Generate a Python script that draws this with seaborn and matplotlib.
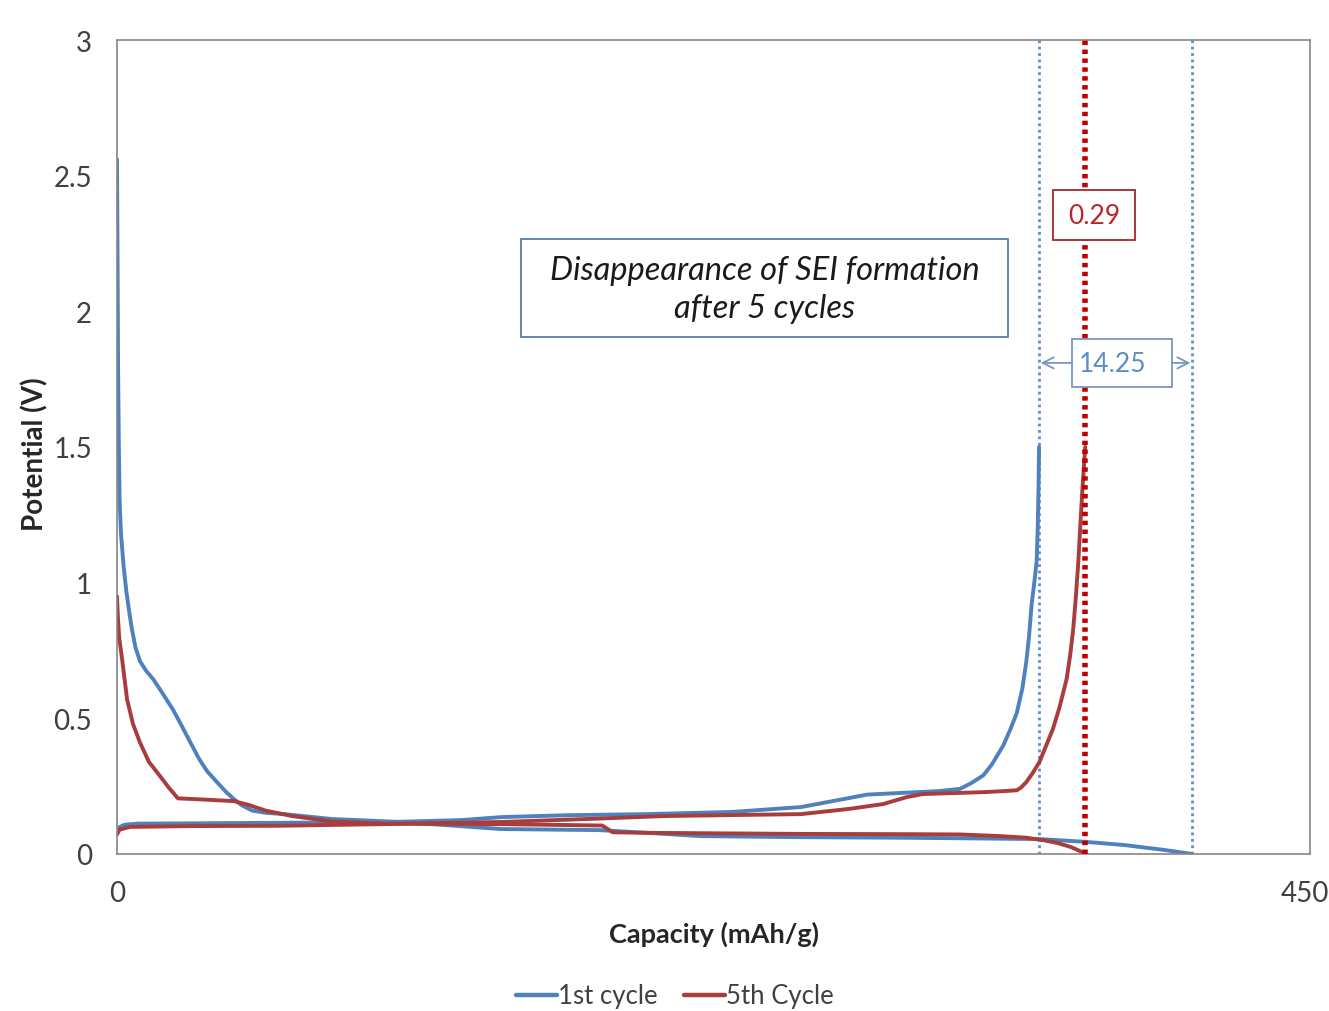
import numpy as np
import pandas as pd
import matplotlib
matplotlib.use("Agg")
import matplotlib.pyplot as plt
import matplotlib.transforms as mtransforms
from matplotlib.patches import Rectangle
import seaborn as sns

# ---------------- data ----------------
# 1st cycle, discharge branch
c1_dis_cap = [0, 0.2, 0.4, 0.7, 1.0, 1.5, 2.5, 3.5, 4.5, 5.6, 7, 8.7, 11, 13.6, 17, 21, 24, 26.4,
              31, 34, 37.7, 41, 44, 47, 51, 56, 63, 81, 107, 145, 182, 200, 220, 258, 295, 318,
              348, 365, 380, 395, 405.5]
c1_dis_v = [2.56, 2.2, 1.8, 1.5, 1.3, 1.18, 1.06, 0.97, 0.90, 0.83, 0.76, 0.71, 0.675, 0.645,
            0.595, 0.534, 0.48, 0.435, 0.35, 0.305, 0.265, 0.23, 0.203, 0.18, 0.16, 0.152, 0.147,
            0.129, 0.118, 0.092, 0.088, 0.078, 0.066, 0.062, 0.06, 0.058, 0.055, 0.045, 0.033,
            0.015, 0.0]
# 1st cycle, charge branch
c1_chg_cap = [0, 1, 3, 8, 30, 60, 100, 130, 145, 170, 200, 232, 258, 270, 283, 302, 310, 318,
              322, 326.8, 330, 334.3, 337, 339.4, 341.5, 343, 344, 345, 346, 346.9, 347.3, 347.6,
              347.8]
c1_chg_v = [0.088, 0.10, 0.108, 0.112, 0.113, 0.115, 0.117, 0.125, 0.136, 0.143, 0.147, 0.155,
            0.173, 0.195, 0.219, 0.228, 0.232, 0.24, 0.26, 0.29, 0.33, 0.40, 0.46, 0.52, 0.61,
            0.71, 0.80, 0.92, 1.0, 1.08, 1.2, 1.35, 1.5]
# 5th cycle, discharge branch
c5_dis_cap = [0, 0.3, 0.8, 1.9, 3.8, 6, 8.7, 12, 16, 19.5, 23, 30, 44, 50, 56, 66, 81, 100, 145,
              183, 187, 200, 258, 300, 318, 333, 343, 350, 355, 360, 363, 365]
c5_dis_v = [0.95, 0.88, 0.80, 0.72, 0.57, 0.48, 0.41, 0.34, 0.29, 0.245, 0.205, 0.202, 0.195,
            0.18, 0.16, 0.14, 0.12, 0.112, 0.11, 0.105, 0.08, 0.078, 0.074, 0.073, 0.072, 0.066,
            0.06, 0.05, 0.04, 0.025, 0.012, 0.0]
# 5th cycle, charge branch
c5_chg_cap = [0, 1, 5, 30, 60, 100, 145, 180, 207, 258, 276, 289, 298, 304, 327, 335, 339.4,
              341, 343, 345.5, 348, 350.5, 353, 355.5, 358.2, 359.5, 360.7, 361.7, 362.6, 363.3,
              364, 364.6, 365.2]
c5_chg_v = [0.072, 0.09, 0.10, 0.103, 0.104, 0.11, 0.118, 0.13, 0.14, 0.147, 0.166, 0.184, 0.21,
            0.221, 0.228, 0.232, 0.235, 0.245, 0.265, 0.30, 0.34, 0.40, 0.46, 0.54, 0.645, 0.73,
            0.83, 0.95, 1.076, 1.2, 1.32, 1.41, 1.5]

series_names = ["1st cycle", "5th Cycle"]
blue_vlines = [347.8, 405.5]
red_vline = 365.2
annot_main = "Disappearance of SEI formation\nafter 5 cycles"
annot_red = "0.29"
annot_blue = "14.25"
x_ticks = [0, 450]
y_ticks = [0, 0.5, 1, 1.5, 2, 2.5, 3]
y_tick_labels = ["0", "0.5", "1", "1.5", "2", "2.5", "3"]

# ---------------- frame ----------------
rows = []
for name, branch, caps, vs in [
    (series_names[0], "1d", c1_dis_cap, c1_dis_v),
    (series_names[0], "1c", c1_chg_cap, c1_chg_v),
    (series_names[1], "5d", c5_dis_cap, c5_dis_v),
    (series_names[1], "5c", c5_chg_cap, c5_chg_v),
]:
    for c, v in zip(caps, vs):
        rows.append({"Capacity": c, "Potential": v, "Cycle": name, "Branch": branch})
df = pd.DataFrame(rows)

sns.set_theme(style="white")
plt.rcParams["font.family"] = ["Lato", "DejaVu Sans"]

BLUE = "#4F81BD"
RED = "#A83D3B"
GRAY = "#868686"
TXT = "#404040"

fig = plt.figure(figsize=(13.29, 10.12), dpi=100)
ax = fig.add_axes([117 / 1329, 1 - 855 / 1012, (1310 - 117) / 1329, (855 - 41) / 1012])

# vertical reference lines
for xv in blue_vlines:
    ax.axvline(xv, color="#5B8FCB", lw=2.0, ls=(0, (1, 1.3)), zorder=1)
ax.axvline(red_vline, color="#C00000", lw=4.0, ls=(0, (0.8, 0.8)), zorder=3)

sns.lineplot(data=df, x="Capacity", y="Potential", hue="Cycle", units="Branch",
             estimator=None, sort=False, palette=[BLUE, RED], lw=2.8, ax=ax,
             legend=True, zorder=2)

ax.set_xlim(0, 450)
ax.set_ylim(0, 3)
ax.set_xticks(x_ticks)
ax.set_xticklabels([str(t) for t in x_ticks])
ax.set_yticks(y_ticks)
ax.set_yticklabels(y_tick_labels)
ax.tick_params(axis="both", direction="out", length=5, width=1, color=GRAY,
               labelsize=20, labelcolor=TXT)
ax.tick_params(axis="x", pad=14)
ax.tick_params(axis="y", pad=13)
for s in ax.spines.values():
    s.set_color(GRAY)
    s.set_linewidth(1.2)

# keep the last x tick label inside the canvas
last = ax.get_xticklabels()[-1]
last.set_transform(last.get_transform() + mtransforms.ScaledTranslation(-5 / 100, 0, fig.dpi_scale_trans))

ax.set_xlabel("Capacity (mAh/g)", fontsize=19.5, fontweight="bold", color="#262626")
ax.xaxis.set_label_coords((714 - 117) / 1193, -(934 - 855) / 814)
ax.set_ylabel("Potential (V)", fontsize=20, fontweight="bold", color="#262626")
ax.yaxis.set_label_coords((35 - 117) / 1193, (855 - 454) / 814)
ax.xaxis.label.set_va("center")
ax.yaxis.label.set_va("center")

# legend at bottom
handles, labels = ax.get_legend_handles_labels()
ax.get_legend().remove()
leg = fig.legend(handles, labels, loc="center", bbox_to_anchor=(675 / 1329, 1 - 997 / 1012),
                 ncol=2, frameon=False, fontsize=18.5, handlelength=1.6, handletextpad=0.05,
                 columnspacing=1.0)
for t in leg.get_texts():
    t.set_color(TXT)
for h in leg.get_lines():
    h.set_linewidth(3.2)

# main annotation box
ax.add_patch(Rectangle((152.4, 1.906), 183.7, 0.361, transform=ax.transData,
                       facecolor="white", edgecolor="#5A7DA8", lw=1.3, zorder=4))
ax.text(244.2, 2.082, annot_main, ha="center", va="center", fontsize=23.5, style="italic",
        color="#1a1a1a", linespacing=1.35, zorder=5)

# red box
ax.add_patch(Rectangle((353.1, 2.263), 30.9, 0.184, facecolor="white",
                       edgecolor="#A0282A", lw=1.3, zorder=4))
ax.text(368.5, 2.352, annot_red, ha="center", va="center", fontsize=19,
        color="#B8262B", zorder=5)

# blue box with arrows
ax.add_patch(Rectangle((360.2, 1.721), 37.8, 0.177, facecolor="white",
                       edgecolor="#7A97BE", lw=1.3, zorder=4))
ax.text(375.7, 1.807, annot_blue, ha="center", va="center", fontsize=19,
        color="#5B8EC9", zorder=5)
ax.annotate("", xy=(blue_vlines[0] + 0.6, 1.81), xytext=(360.2, 1.81),
            arrowprops=dict(arrowstyle="->", color="#7A97BE", lw=1.3,
                            shrinkA=0, shrinkB=0, mutation_scale=20), zorder=5)
ax.annotate("", xy=(blue_vlines[1] - 0.6, 1.81), xytext=(398.0, 1.81),
            arrowprops=dict(arrowstyle="->", color="#7A97BE", lw=1.3,
                            shrinkA=0, shrinkB=0, mutation_scale=20), zorder=5)

fig.savefig("out.png", dpi=100)
